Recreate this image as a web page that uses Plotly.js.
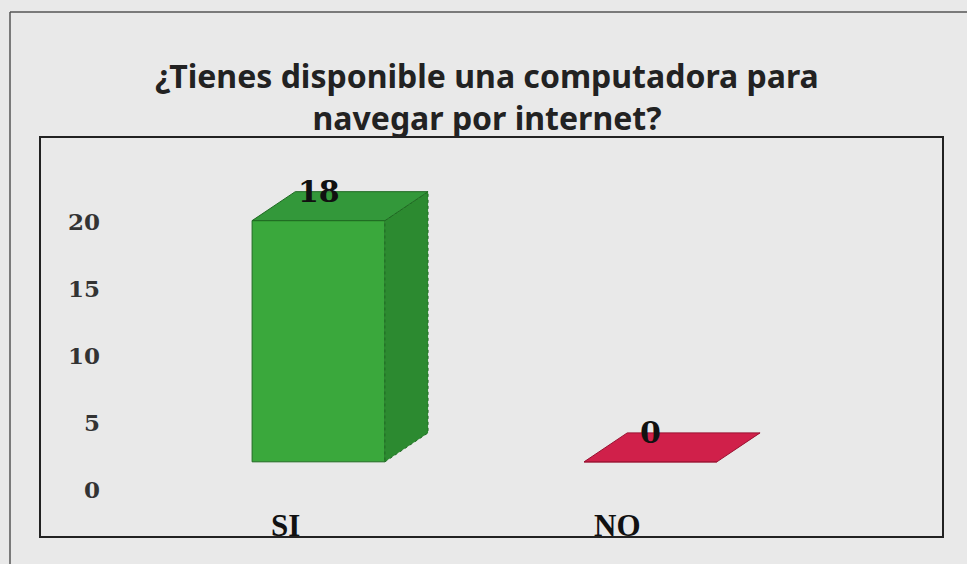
<!DOCTYPE html>
<html>
<head>
<meta charset="utf-8">
<script src="https://cdn.plot.ly/plotly-3.0.1.min.js"></script>
<style>
html,body{margin:0;padding:0;background:#e9e9e9;}
#chart{width:967px;height:564px;}
</style>
</head>
<body>
<div id="chart"></div>
<script>
// ---- data ----
const categories = ["SI", "NO"];
const values = [18, 0];
const yTicks = [0, 5, 10, 15, 20];
const titleText = "¿Tienes disponible una computadora para<br>navegar por internet?";

// ---- style ----
const frontColors = ["#3aa83c", "#d0204a"];
const sideColors  = ["#2c8a30", "#a8173a"];
const topColors   = ["#33983a", "#d0204a"];
const edgeColors  = ["#1f6a22", "#9a1030"];
const floor = 2.1;      // 3D floor offset (axis units)
const barW = 0.40;      // bar width (x units)
const dx = 0.13;        // depth offset x
const dy = 2.16;        // depth offset y

const xs = categories.map((c, i) => i);
const traces = [];

// front faces
traces.push({
  type: "bar", x: xs, y: values, base: floor, width: barW,
  marker: {color: frontColors, line: {color: edgeColors, width: 1}},
  hoverinfo: "skip", showlegend: false
});

xs.forEach((x, i) => {
  const v = values[i];
  const l = x - barW / 2, r = x + barW / 2;
  const b = floor, t = floor + v;
  if (v > 0) {
    traces.push({
      type: "scatter", mode: "lines", fill: "toself",
      x: [r, r + dx, r + dx, r, r],
      y: [b, b + dy, t + dy, t, b],
      fillcolor: sideColors[i], line: {color: edgeColors[i], width: 1, dash: "dot"},
      hoverinfo: "skip", showlegend: false
    });
  }
  traces.push({
    type: "scatter", mode: "lines", fill: "toself",
    x: [l, l + dx, r + dx, r, l],
    y: [t, t + dy, t + dy, t, t],
    fillcolor: topColors[i], line: {color: edgeColors[i], width: 1},
    hoverinfo: "skip", showlegend: false
  });
});

const annotations = [];
xs.forEach((x, i) => {
  annotations.push({
    x: x, y: floor + values[i] + dy, xref: "x", yref: "y",
    text: String(values[i]), showarrow: false, yanchor: "middle",
    font: {family: "DejaVu Serif, serif", size: 30, color: "#111", weight: "bold"}
  });
  annotations.push({
    x: x, y: 0, xref: "x", yref: "paper",
    text: categories[i], showarrow: false, yanchor: "bottom", xshift: -33, yshift: -8,
    font: {family: "Liberation Serif, serif", size: 31, color: "#111", weight: "bold"}
  });
});

const layout = {
  width: 967, height: 564,
  paper_bgcolor: "#e9e9e9", plot_bgcolor: "#e9e9e9",
  margin: {l: 110, r: 24, t: 137, b: 27},
  title: {
    text: titleText, x: 487 / 967, xanchor: "center", xref: "container",
    y: 1 - 88 / 564, yanchor: "middle", yref: "container",
    font: {family: "Noto Sans, sans-serif", size: 32, color: "#222", weight: "bold"}
  },
  showlegend: false,
  xaxis: {range: [-0.628, 1.881], showgrid: false, zeroline: false, showticklabels: false, ticks: "", fixedrange: true},
  yaxis: {
    range: [-3.51, 26.34], tickvals: yTicks, ticktext: yTicks.map(String),
    showgrid: false, zeroline: false, ticks: "", ticklabelstandoff: 9,
    tickfont: {family: "DejaVu Serif, serif", size: 23, color: "#333", weight: "bold"}, fixedrange: true
  },
  annotations: annotations,
  shapes: [
    {type: "rect", xref: "paper", yref: "paper", x0: -70/833, x1: 1, y0: 0, y1: 1,
     line: {color: "#222", width: 2}, fillcolor: "rgba(0,0,0,0)", layer: "above"},
    {type: "line", xref: "paper", yref: "paper", x0: -100/833, x1: 1.05, y0: 525/400, y1: 525/400,
     line: {color: "#555", width: 1.5}},
    {type: "line", xref: "paper", yref: "paper", x0: -100/833, x1: -100/833, y0: -0.1, y1: 525/400,
     line: {color: "#555", width: 1.5}}
  ]
};

Plotly.newPlot("chart", traces, layout, {displayModeBar: false, staticPlot: true});
</script>
</body>
</html>
